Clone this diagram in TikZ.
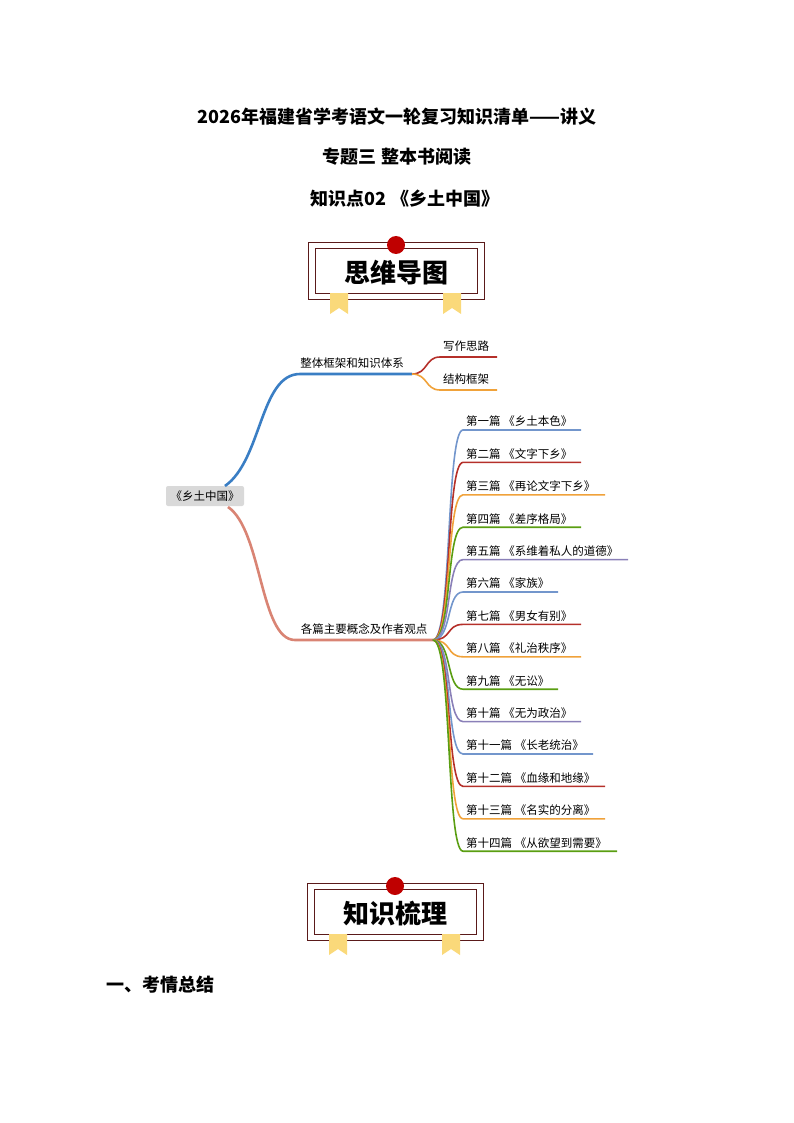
\documentclass[tikz,border=0pt]{standalone}
\usepackage{fontspec}
\setmainfont{Noto Sans CJK SC}
\usetikzlibrary{positioning}
\definecolor{cblue}{HTML}{7396CC}
\definecolor{cred}{HTML}{B5302A}
\definecolor{corange}{HTML}{F0A23A}
\definecolor{cgreen}{HTML}{5A9E12}
\definecolor{cpurple}{HTML}{8A80B8}
\definecolor{rootblue}{HTML}{3A7EC4}
\definecolor{salmon}{HTML}{D98474}
\definecolor{ribbon}{HTML}{FAD97A}
\definecolor{frame}{HTML}{5A1A1A}
\tikzset{
  title/.style={font=\bfseries\fontsize{18}{20}\selectfont},
  leaf/.style={font=\fontsize{11.5}{13}\selectfont, anchor=south west, inner sep=2pt},
  branch/.style={line width=2.6pt},
  twig/.style={line width=1.6pt},
}
\newcommand{\banner}[3]{% x, y, text
  \draw[frame, line width=0.9pt] (#1-88,#2-2) rectangle (#1+88,#2+55);
  \draw[frame, line width=0.7pt] (#1-81,#2+4) rectangle (#1+81,#2+49);
  \fill[ribbon] (#1-66,#2+49) -- (#1-48,#2+49) -- (#1-48,#2+70) -- (#1-57,#2+64) -- (#1-66,#2+70) -- cycle;
  \fill[ribbon] (#1+47,#2+49) -- (#1+65,#2+49) -- (#1+65,#2+70) -- (#1+56,#2+64) -- (#1+47,#2+70) -- cycle;
  \fill[red!75!black] (#1,#2+1) circle (9);
  \node[font=\bfseries\fontsize{26}{28}\selectfont] at (#1,#2+29) {#3};
}
\begin{document}
\begin{tikzpicture}[x=1pt,y=-1pt]
    \useasboundingbox (0,0) rectangle (794,1123);
    % titles
    \node[title] (t1) at (397,117) {2026年福建省学考语文一轮复习知识清单——讲义};
    \node[title] (t2) at (397,157) {专题三\ 整本书阅读};
    \node[title] (t3) at (405,199) {知识点02\ 《乡土中国》};
    \banner{396}{244}{思维导图}
    \banner{395}{885}{知识梳理}
    \node[title, anchor=west] (kq) at (103,985) {一、考情总结};
    % root
    \node[fill=black!15, rounded corners=2pt, minimum width=78pt, minimum height=20pt,
          font=\fontsize{11.5}{13}\selectfont] (root) at (205,496) {《乡土中国》};
    \coordinate (a0) at (300,374);
    \coordinate (a1) at (412,374);
    \coordinate (b0) at (295,640);
    \coordinate (b1) at (433,640);
    \draw[branch, rootblue] (225,486) .. controls (262,460) and (260,374) .. (a0) -- (a1);
    \draw[branch, salmon] (228,507) .. controls (262,530) and (260,640) .. (b0) -- (b1);
    \node[leaf, anchor=south] (la) at (352,371) {整体框架和知识体系};
    \node[leaf, anchor=south] (lb) at (364,637) {各篇主要概念及作者观点};
    % first branch children
    \coordinate (c1) at (440,357);
    \coordinate (c2) at (440,390);
    \draw[twig, cred] (a1) .. controls (428,374) and (425,357) .. (c1) -- (497,357);
    \draw[twig, corange] (a1) .. controls (428,374) and (425,390) .. (c2) -- (497,390);
    \node[leaf] (s1) at (441,354) {写作思路};
    \node[leaf] (s2) at (441,387) {结构框架};
    % chapters
    \foreach \i/\txt/\len/\col in {
      1/第一篇\ 《乡土本色》/581/cblue,
      2/第二篇\ 《文字下乡》/581/cred,
      3/第三篇\ 《再论文字下乡》/605/corange,
      4/第四篇\ 《差序格局》/581/cgreen,
      5/第五篇\ 《系维着私人的道德》/628/cpurple,
      6/第六篇\ 《家族》/558/cblue,
      7/第七篇\ 《男女有别》/581/cred,
      8/第八篇\ 《礼治秩序》/581/corange,
      9/第九篇\ 《无讼》/558/cgreen,
      10/第十篇\ 《无为政治》/581/cpurple,
      11/第十一篇\ 《长老统治》/593/cblue,
      12/第十二篇\ 《血缘和地缘》/605/cred,
      13/第十三篇\ 《名实的分离》/605/corange,
      14/第十四篇\ 《从欲望到需要》/617/cgreen} {
      \pgfmathsetmacro{\yy}{430+(\i-1)*32.4}
      \coordinate (p\i) at (463,\yy);
      \draw[twig, \col] (b1) .. controls (452,640) and (446,\yy) .. (p\i) -- (\len,\yy);
      \node[leaf] (ch\i) at (464,\yy-1) {\txt};
    }
\end{tikzpicture}
\end{document}
